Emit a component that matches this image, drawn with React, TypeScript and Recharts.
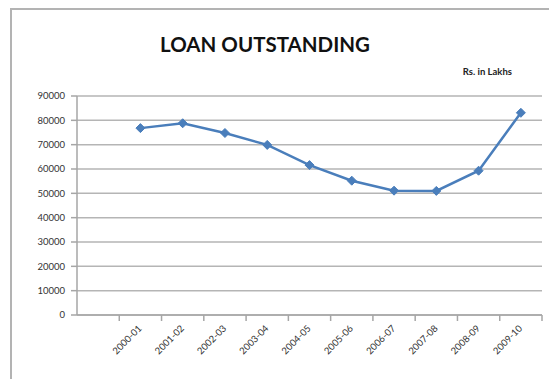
import React from 'react';
import { LineChart, Line, XAxis, YAxis, CartesianGrid } from 'recharts';

// first category is blank, like the empty row in the source sheet
const years = [' ', '2000-01', '2001-02', '2002-03', '2003-04', '2004-05', '2005-06', '2006-07', '2007-08', '2008-09', '2009-10'];
const loans = [null, 76800, 78800, 74800, 69900, 61600, 55200, 51100, 51000, 59300, 83100];
const yTicks = [0, 10000, 20000, 30000, 40000, 50000, 60000, 70000, 80000, 90000];

const W = 549;
const H = 379;
const margin = { top: 96, right: 7, bottom: 14, left: 17 };
const yAxisWidth = 60;
const plotWidth = W - margin.left - margin.right - yAxisWidth;
const band = plotWidth / years.length;

const chartData = years.map((year, i) => ({ year, value: loans[i] }));

const Diamond = (props: any) => {
  const { cx, cy, value } = props;
  if (value == null || cx == null || cy == null) return null;
  const r = 4.5;
  return (
    <path
      d={`M${cx},${cy - r} L${cx + r},${cy} L${cx},${cy + r} L${cx - r},${cy} Z`}
      fill="#4a7ebb"
      stroke="#4a7ebb"
    />
  );
};

// tick marks sit between categories, labels under the category centre
const XTick = (props: any) => {
  const { x, y, payload, index } = props;
  const last = index === years.length - 1;
  return (
    <g>
      {index > 0 && (
        <line x1={x - band / 2} y1={y - 8} x2={x - band / 2} y2={y - 2} stroke="#a6a6a6" strokeWidth={1.5} />
      )}
      {last && (
        <line x1={x + band / 2} y1={y - 8} x2={x + band / 2} y2={y - 2} stroke="#a6a6a6" strokeWidth={1.5} />
      )}
      <text
        x={x + 2}
        y={y + 6}
        textAnchor="end"
        transform={`rotate(-45, ${x + 2}, ${y + 6})`}
        fontSize={9.5}
        fill="#333"
        fontFamily="Lato, 'Open Sans', sans-serif"
      >
        {payload.value}
      </text>
    </g>
  );
};

const App: React.FC = () => {
  return (
    <div style={{ position: 'absolute', left: 0, top: 0, width: W, height: H, background: '#fff', overflow: 'hidden' }}>
      <div
        style={{
          position: 'absolute',
          left: 10,
          top: 8,
          width: 600,
          height: 420,
          borderLeft: '2px solid #b3b3b3',
          borderTop: '2px solid #b3b3b3',
        }}
      />
      <div
        style={{
          position: 'absolute',
          left: 0,
          width: 530,
          top: 32,
          textAlign: 'center',
          fontFamily: 'Lato, sans-serif',
          fontWeight: 'bold',
          fontSize: 20.5,
          color: '#111',
        }}
      >
        LOAN OUTSTANDING
      </div>
      <div
        style={{
          position: 'absolute',
          right: 37,
          top: 66,
          fontFamily: 'Lato, sans-serif',
          fontWeight: 'bold',
          fontSize: 9.5,
          color: '#222',
        }}
      >
        Rs. in Lakhs
      </div>
      <div style={{ position: 'absolute', left: 0, top: 0 }}>
        <LineChart width={W} height={H} data={chartData} margin={margin}>
          <CartesianGrid vertical={false} stroke="#b5b5b5" strokeWidth={1.5} />
          <XAxis
            dataKey="year"
            scale="band"
            interval={0}
            height={50}
            tickLine={false}
            axisLine={{ stroke: '#a6a6a6', strokeWidth: 1.5 }}
            tick={<XTick />}
          />
          <YAxis
            width={yAxisWidth}
            domain={[0, 90000]}
            ticks={yTicks}
            interval={0}
            tickSize={6}
            tickMargin={6}
            axisLine={{ stroke: '#a6a6a6', strokeWidth: 1.5 }}
            tickLine={{ stroke: '#a6a6a6', strokeWidth: 1.5 }}
            tick={{ fontSize: 9.5, fill: '#333', fontFamily: 'Lato, sans-serif' }}
          />
          <Line
            type="linear"
            dataKey="value"
            stroke="#4a7ebb"
            strokeWidth={2.5}
            dot={<Diamond />}
            activeDot={false}
            connectNulls={false}
            isAnimationActive={false}
          />
        </LineChart>
      </div>
    </div>
  );
};

export default App;
